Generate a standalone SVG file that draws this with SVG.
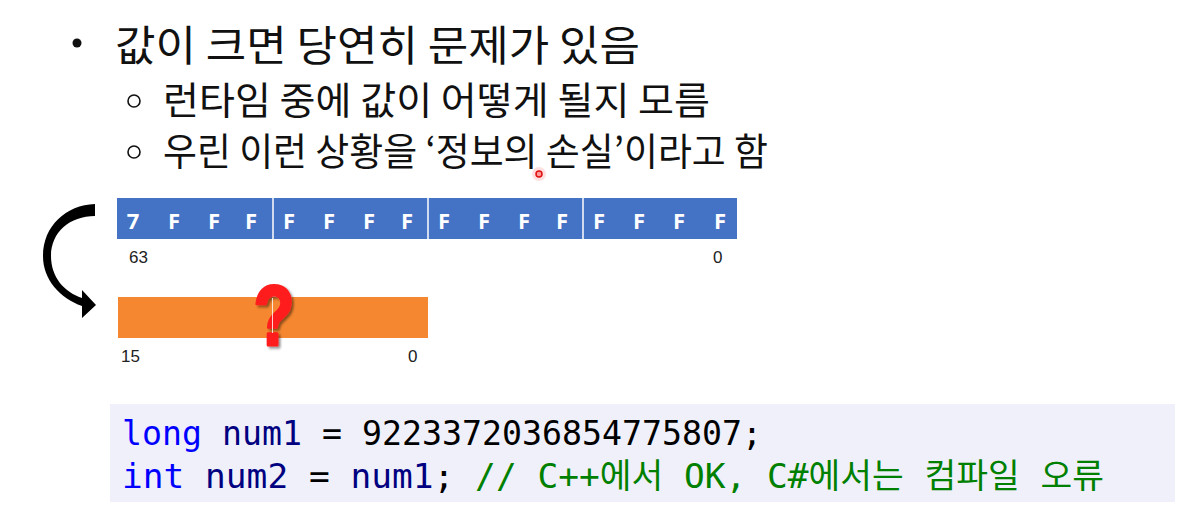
<svg xmlns="http://www.w3.org/2000/svg" width="1190" height="517" viewBox="0 0 1190 517">
  <defs>
    <style>
      .kr { font-family: "Noto Sans CJK KR", "Noto Sans", sans-serif; fill: #111; }
      .hex { font-family: "Open Sans", "Liberation Sans", sans-serif; font-weight: 700; font-size: 22px; fill: #fff; text-anchor: middle; }
      .lbl { font-family: "Liberation Sans", "Noto Sans", sans-serif; font-size: 17px; fill: #222; }
      .code { font-family: "DejaVu Sans Mono", "Noto Sans CJK KR", monospace; font-size: 34px; }
      .kw { fill: #0000FF; }
      .id { fill: #000080; }
      .pl { fill: #000000; }
      .cm { fill: #008000; }
      .div { stroke: #ffffff; stroke-width: 1.5; }
    </style>
    <filter id="shadow" x="-30%" y="-30%" width="160%" height="160%">
      <feGaussianBlur in="SourceAlpha" stdDeviation="1.5"/>
      <feOffset dx="2" dy="2" result="b"/>
      <feComponentTransfer><feFuncA type="linear" slope="0.45"/></feComponentTransfer>
      <feMerge><feMergeNode/><feMergeNode in="SourceGraphic"/></feMerge>
    </filter>
  </defs>
  <rect width="1190" height="517" fill="#ffffff"/>

  <g id="bullets">
    <circle cx="77" cy="43" r="4.5" fill="#111"/>
    <text class="kr" x="115" y="61" font-size="42" textLength="525" lengthAdjust="spacingAndGlyphs">값이 크면 당연히 문제가 있음</text>
    <circle cx="134" cy="101" r="6" fill="none" stroke="#111" stroke-width="1.6"/>
    <text class="kr" x="163" y="114" font-size="38" textLength="547" lengthAdjust="spacingAndGlyphs">런타임 중에 값이 어떻게 될지 모름</text>
    <circle cx="134" cy="152" r="6" fill="none" stroke="#111" stroke-width="1.6"/>
    <text class="kr" x="163" y="165" font-size="38" textLength="605" lengthAdjust="spacingAndGlyphs">우린 이런 상황을 ‘정보의 손실’이라고 함</text>
  </g>

  <g id="pointer">
    <circle cx="539" cy="174" r="7" fill="#ff0000" opacity="0.12"/>
    <circle cx="539" cy="174" r="3" fill="#ff9a9a" stroke="#e01010" stroke-width="1.5"/>
  </g>

  <g id="long-bar">
    <rect x="117" y="198" width="620" height="41" fill="#4472C4"/>
    <line class="div" x1="273" y1="198" x2="273" y2="239"/>
    <line class="div" x1="428" y1="198" x2="428" y2="239"/>
    <line class="div" x1="583" y1="198" x2="583" y2="239"/>
    <text class="hex" y="229">
      <tspan x="133">7</tspan><tspan x="174">F</tspan><tspan x="214">F</tspan><tspan x="254">F</tspan>
      <tspan x="289">F</tspan><tspan x="329">F</tspan><tspan x="369">F</tspan><tspan x="410">F</tspan>
      <tspan x="444">F</tspan><tspan x="484">F</tspan><tspan x="524">F</tspan><tspan x="565">F</tspan>
      <tspan x="599">F</tspan><tspan x="639">F</tspan><tspan x="679">F</tspan><tspan x="720">F</tspan>
    </text>
    <text class="lbl" x="129" y="263">63</text>
    <text class="lbl" x="713" y="263">0</text>
  </g>

  <g id="short-bar">
    <rect x="118" y="297" width="310" height="41" fill="#F58730"/>
    <text class="lbl" x="121" y="362">15</text>
    <text class="lbl" x="408" y="362">0</text>
  </g>

  <g id="question">
    <text transform="translate(274,345) scale(0.78,1)" x="0" y="0" text-anchor="middle" font-family="Liberation Sans, Arial, sans-serif" font-weight="700" font-size="86" fill="#FF1E1E" stroke="#FF1E1E" stroke-width="3" stroke-linejoin="round" filter="url(#shadow)">?</text>
    <line x1="272.5" y1="298" x2="272.5" y2="333" stroke="#ffffff" stroke-width="1" opacity="0.8"/>
  </g>

  <g id="connectors">
    <path d="M 95 204 C 66 205, 43 226, 43 256 C 43 280, 60 298, 82 306 L 82 318 L 96 305 L 82 290 L 82 298 C 64 292, 51 277, 51 256 C 51 232, 70 216, 95 216 Z" fill="#000000"/>
  </g>

  <g id="code">
    <rect x="110" y="404" width="1065" height="98" fill="#F0F0FA"/>
    <text class="code" x="122" y="445" textLength="640" lengthAdjust="spacingAndGlyphs"><tspan class="kw">long</tspan><tspan class="id"> num1</tspan><tspan class="pl"> = 9223372036854775807;</tspan></text>
    <text class="code" x="122" y="488" textLength="982" lengthAdjust="spacingAndGlyphs"><tspan class="kw">int</tspan><tspan class="id"> num2</tspan><tspan class="pl"> = </tspan><tspan class="id">num1</tspan><tspan class="pl">; </tspan><tspan class="cm">// C++에서 OK, C#에서는 컴파일 오류</tspan></text>
  </g>
</svg>
